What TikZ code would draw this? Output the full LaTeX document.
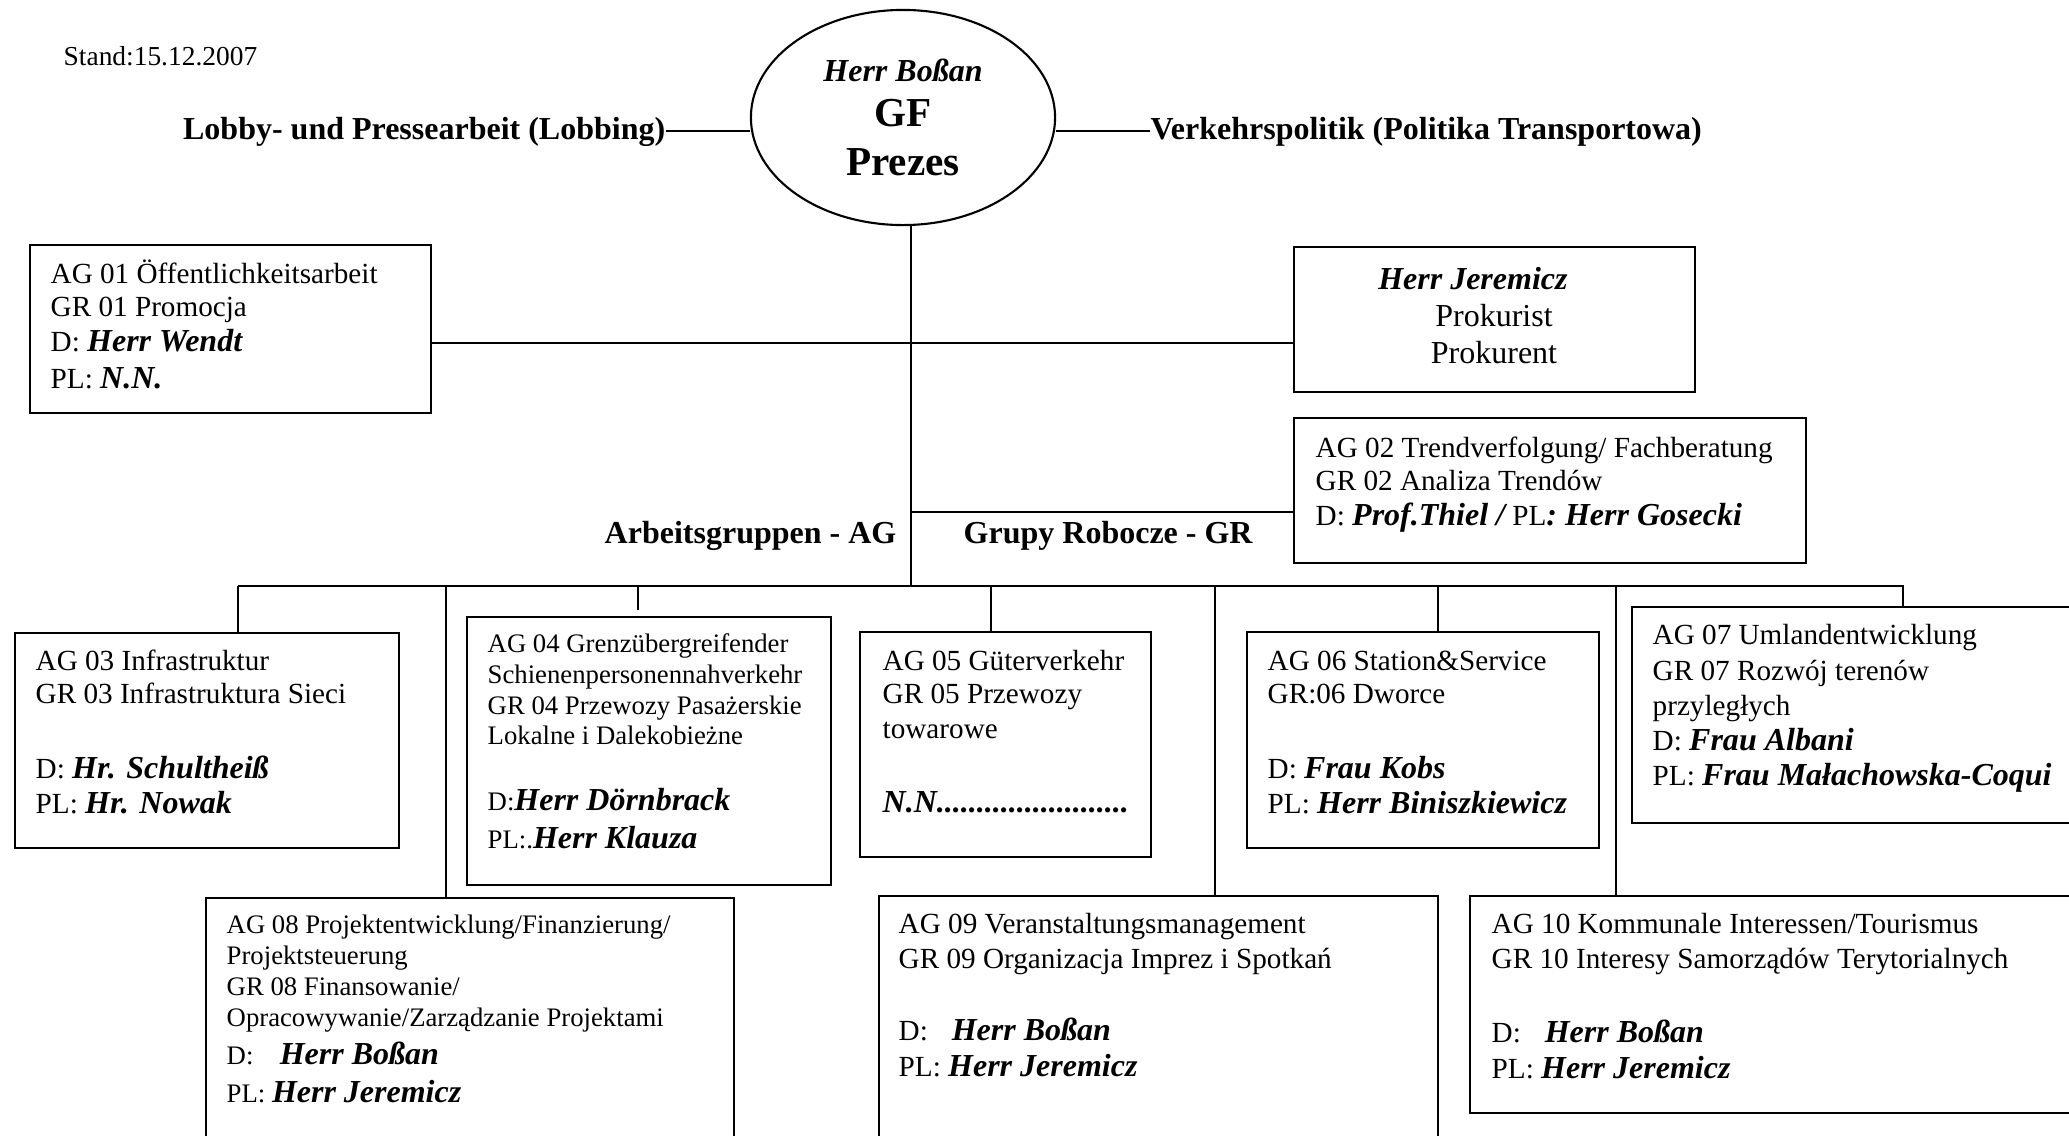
\documentclass[tikz,border=0pt]{standalone}
\usepackage{fontspec}
\setmainfont{Liberation Serif}
\usetikzlibrary{shapes.geometric,fit}

\newcommand{\nm}[1]{{\fontsize{9.1}{10.3}\selectfont\bfseries\itshape #1}}
\newcommand{\agstrut}{\rule{0pt}{8pt}}

\begin{document}
\begin{tikzpicture}[x=0.01cm,y=-0.01cm,
  box/.style={draw,line width=0.8pt,inner sep=0pt},
  conn/.style={line width=0.6pt},
  txt/.style={anchor=north west,inner sep=0pt,align=left,font=\fontsize{8.3}{9.4}\selectfont},
  small/.style={font=\fontsize{7.6}{8.8}\selectfont},
  title/.style={inner sep=0pt,font=\fontsize{9.1}{11}\selectfont\bfseries}]
\useasboundingbox[fill=white] (0,0) rectangle (2069,1136);

% head
\node[anchor=base west,inner sep=0pt,font=\fontsize{7.8}{9}\selectfont] (stand) at (63,65) {Stand:15.12.2007};
\node[ellipse,draw,line width=0.6pt,minimum width=3.04cm,minimum height=2.15cm,inner sep=0pt,align=center,
  font=\fontsize{11.7}{13.4}\selectfont\bfseries] (gf) at (903,117.5)
  {\nm{Herr Boßan}\\[-0.6pt] GF\\[0.3pt] Prezes};
\node[title,anchor=base east] (lobby) at (666,139) {Lobby- und Pressearbeit (Lobbing)};
\node[title,anchor=base west] (verk) at (1150,139) {Verkehrspolitik (Politika Transportowa)};
\draw[conn] (lobby.east) -- (gf.west |- lobby.east);
\draw[conn] (gf.east |- verk.west) -- (verk.west);

% boxes
\node[box,fit={(30,245) (431,413)}] (ag01) {};
\node[box,fit={(1294,247) (1695,392)}] (jer) {};
\node[box,fit={(1294,418) (1806,563)}] (ag02) {};
\node[box,fit={(15,633) (399,848)}] (ag03) {};
\node[box,fit={(467,617) (831,885)}] (ag04) {};
\node[box,fit={(860,632) (1151,857)}] (ag05) {};
\node[box,fit={(1247,632) (1599,848)}] (ag06) {};
\node[box,fit={(1632,607) (2085,823)}] (ag07) {};
\node[box,fit={(206,898) (734,1150)}] (ag08) {};
\node[box,fit={(879,896) (1438,1150)}] (ag09) {};
\node[box,fit={(1470,896) (2085,1113)}] (ag10) {};

% texts
\node[txt] (ag01t) at (50,255) {\agstrut AG 01 Öffentlichkeitsarbeit\\ GR 01 Promocja\\[0.3pt]
  D: \nm{Herr Wendt}\\[1.3pt] PL: \nm{N.N.}};
\node[txt,anchor=north,align=center,font=\fontsize{9.1}{10.3}\selectfont] (jert) at (1494,261)
  {\agstrut\nm{Herr Jeremicz}\hspace*{12pt}\\[0.2pt] Prokurist\\[0.2pt] Prokurent};
\node[txt] (ag02t) at (1315,429) {\agstrut AG 02 Trendverfolgung/ Fachberatung\\ GR 02 Analiza Trendów\\[0.3pt]
  D: \nm{Prof.Thiel /} PL\nm{: Herr Gosecki}};
\node[txt] (ag03t) at (35,642) {\agstrut AG 03 Infrastruktur\\ GR 03 Infrastruktura Sieci\\[11.7pt]
  D: \nm{Hr. Schultheiß}\\[0.8pt] PL: \nm{Hr. Nowak}};
\node[txt,font=\fontsize{7.6}{8.7}\selectfont] (ag04t) at (487,624) {\agstrut AG 04 Grenzübergreifender\\
  Schienenpersonennahverkehr\\ GR 04 Przewozy Pasażerskie\\ Lokalne i Dalekobieżne\\[10.1pt]
  D:\nm{Herr Dörnbrack}\\[2pt] PL:.\nm{Herr Klauza}};
\node[txt] (ag05t) at (882,642) {\agstrut AG 05 Güterverkehr\\ GR 05 Przewozy\\[0.3pt] towarowe\\[11.9pt]
  \nm{N.N........................}};
\node[txt] (ag06t) at (1267,642) {\agstrut AG 06 Station\&Service\\ GR:06 Dworce\\[11.7pt]
  D: \nm{Frau Kobs}\\[0.8pt] PL: \nm{Herr Biniszkiewicz}};
\node[txt,font=\fontsize{8.3}{10}\selectfont] (ag07t) at (1652,616) {\agstrut AG 07 Umlandentwicklung\\
  GR 07 Rozwój terenów\\ przyległych\\ D: \nm{Frau Albani}\\ PL: \nm{Frau Małachowska-Coqui}};
\node[txt,small] (ag08t) at (226,905) {\agstrut AG 08 Projektentwicklung/Finanzierung/\\ Projektsteuerung\\
  GR 08 Finansowanie/\\ Opracowywanie/Zarządzanie Projektami\\[2pt]
  D:\hspace{7.5pt}\nm{Herr Boßan}\\[2pt] PL: \nm{Herr Jeremicz}};
\node[txt] (ag09t) at (898,905) {\agstrut AG 09 Veranstaltungsmanagement\\[0.5pt] GR 09 Organizacja Imprez i Spotkań\\[11pt]
  D:\hspace{6.8pt}\nm{Herr Boßan}\\[1pt] PL: \nm{Herr Jeremicz}};
\node[txt] (ag10t) at (1491,905) {\agstrut AG 10 Kommunale Interessen/Tourismus\\[0.5pt] GR 10 Interesy Samorządów Terytorialnych\\[11.5pt]
  D:\hspace{6.8pt}\nm{Herr Boßan}\\[1pt] PL: \nm{Herr Jeremicz}};

\node[title,anchor=base east] (agl) at (897,543) {Arbeitsgruppen - AG};
\node[title,anchor=base west] (grl) at (963,543) {Grupy Robocze - GR};

% lines
\coordinate (hub) at (911,586);
\coordinate (pk) at (911,343);
\coordinate (tr) at (911,512);
\coordinate (d3) at (238,586);
\coordinate (d8) at (446,586);
\coordinate (d4) at (638,586);
\coordinate (d4e) at (638,610);
\coordinate (d5) at (991,586);
\coordinate (d9) at (1215,586);
\coordinate (d6) at (1438,586);
\coordinate (d10) at (1616,586);
\coordinate (d7) at (1903,586);

\draw[conn] (gf.south -| hub) -- (hub);
\draw[conn] (ag01.east |- pk) -- (jer.west |- pk);
\draw[conn] (tr) -- (ag02.west |- tr);
\draw[conn] (d3) -- (d7) -- (d7 |- ag07.north);
\draw[conn] (d3) -- (d3 |- ag03.north);
\draw[conn] (d8) -- (d8 |- ag08.north);
\draw[conn] (d4) -- (d4e);
\draw[conn] (d5) -- (d5 |- ag05.north);
\draw[conn] (d9) -- (d9 |- ag09.north);
\draw[conn] (d6) -- (d6 |- ag06.north);
\draw[conn] (d10) -- (d10 |- ag10.north);
\end{tikzpicture}
\end{document}
